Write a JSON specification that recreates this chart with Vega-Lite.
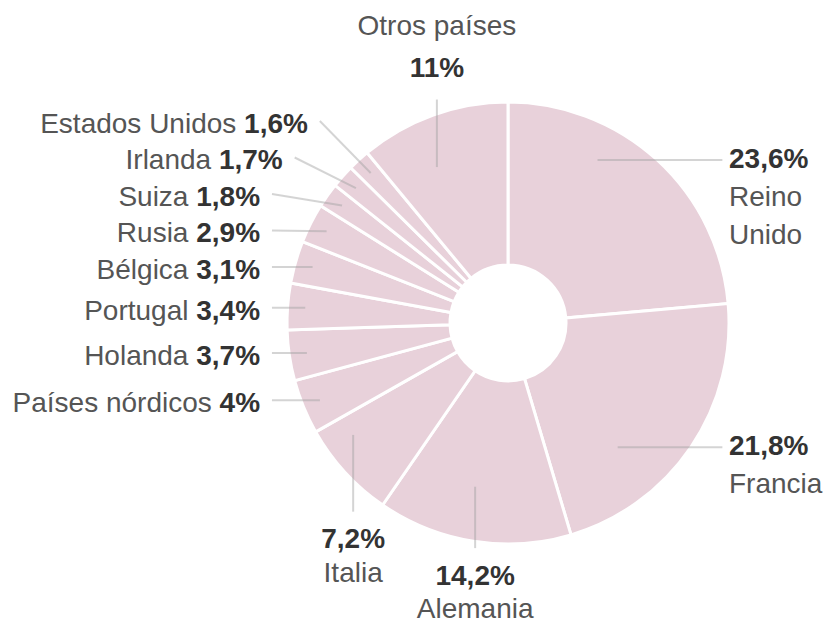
{
  "$schema": "https://vega.github.io/schema/vega-lite/v6.json",
  "width": 442,
  "height": 442,
  "autosize": {"type": "none"},
  "padding": {"left": 287, "top": 102, "right": 100, "bottom": 84},
  "background": "white",
  "config": {"view": {"stroke": null}, "text": {"font": "Liberation Sans", "fontSize": 28}},
  "data": {"values": [
    {"orden": 1, "pais": "Reino Unido", "valor": 23.6, "pct": "23,6%"},
    {"orden": 2, "pais": "Francia", "valor": 21.8, "pct": "21,8%"},
    {"orden": 3, "pais": "Alemania", "valor": 14.2, "pct": "14,2%"},
    {"orden": 4, "pais": "Italia", "valor": 7.2, "pct": "7,2%"},
    {"orden": 5, "pais": "Países nórdicos", "valor": 4, "pct": "4%"},
    {"orden": 6, "pais": "Holanda", "valor": 3.7, "pct": "3,7%"},
    {"orden": 7, "pais": "Portugal", "valor": 3.4, "pct": "3,4%"},
    {"orden": 8, "pais": "Bélgica", "valor": 3.1, "pct": "3,1%"},
    {"orden": 9, "pais": "Rusia", "valor": 2.9, "pct": "2,9%"},
    {"orden": 10, "pais": "Suiza", "valor": 1.8, "pct": "1,8%"},
    {"orden": 11, "pais": "Irlanda", "valor": 1.7, "pct": "1,7%"},
    {"orden": 12, "pais": "Estados Unidos", "valor": 1.6, "pct": "1,6%"},
    {"orden": 13, "pais": "Otros países", "valor": 11, "pct": "11%"}
  ]},
  "transform": [
    {"window": [{"op": "sum", "field": "valor", "as": "cum"}], "sort": [{"field": "orden", "order": "ascending"}], "frame": [null, 0]},
    {"calculate": "2*PI*(datum.cum - datum.valor/2)/100", "as": "ang"},
    {"calculate": "datum.ang*180/PI", "as": "deg"},
    {"calculate": "datum.deg < 150 ? 'derecha' : (datum.deg >= 235 && datum.deg < 330) ? 'izquierda' : 'vertical'", "as": "grupo"},
    {"calculate": "0.92*sin(datum.ang)", "as": "ix"},
    {"calculate": "0.92*cos(datum.ang)", "as": "iy"},
    {"window": [{"op": "row_number", "as": "k"}], "groupby": ["grupo"], "sort": [{"field": "orden", "order": "ascending"}]},
    {"calculate": "datum.iy - 0.165*datum.k", "as": "t"},
    {"window": [{"op": "max", "field": "t", "as": "tmax"}], "groupby": ["grupo"], "sort": [{"field": "orden", "order": "ascending"}], "frame": [null, 0]},
    {"calculate": "cos(datum.ang) < 0 ? -1 : 1", "as": "sg"},
    {"calculate": "0.95*sin(datum.ang)", "as": "vx"},
    {"calculate": "datum.grupo == 'izquierda' ? 0.165*datum.k + datum.tmax : datum.grupo == 'derecha' ? cos(datum.ang) : datum.sg*(sqrt(1 - datum.vx*datum.vx) + 0.2*abs(datum.vx))", "as": "ey"},
    {"calculate": "datum.grupo == 'izquierda' ? -1.122 + 0.69*max(0, datum.ey - 0.6) : datum.grupo == 'derecha' ? 1.0 : datum.vx", "as": "tx"},
    {"calculate": "datum.grupo == 'izquierda' ? datum.ix : datum.grupo == 'derecha' ? 0.6*sin(datum.ang) : datum.vx", "as": "lx1"},
    {"calculate": "datum.grupo == 'izquierda' ? datum.iy : datum.grupo == 'derecha' ? cos(datum.ang) : 0.75*cos(datum.ang)", "as": "ly1"},
    {"calculate": "datum.grupo == 'izquierda' ? datum.tx + 0.054 : datum.grupo == 'derecha' ? 0.97 : datum.vx", "as": "lx2"},
    {"calculate": "datum.grupo == 'vertical' ? datum.ey + datum.sg*(datum.sg < 0 ? 0.13 : 0.136) : datum.ey", "as": "ty"},
    {"calculate": "indexof(datum.pct, ',') >= 0 ? 1 : 0", "as": "coma"},
    {"calculate": "(length(datum.pct) - 1 - datum.coma)*0.556 + datum.coma*0.278 + 0.889", "as": "pem"},
    {"calculate": "datum.grupo == 'izquierda' ? datum.tx - (datum.pem + 0.278)*28/221 : datum.tx", "as": "nx"},
    {"calculate": "datum.grupo == 'izquierda' ? datum.ey : datum.grupo == 'derecha' ? datum.ey - 0.172 : datum.ty + datum.sg*(datum.sg < 0 ? 0.152 : 0.19)", "as": "ny"}
  ],
  "layer": [
    {
      "mark": {"type": "arc", "outerRadius": 221, "innerRadius": 58, "stroke": "white", "strokeWidth": 3, "fill": "#e8d1da"},
      "encoding": {
        "theta": {"field": "valor", "type": "quantitative", "stack": true},
        "order": {"field": "orden", "type": "quantitative"}
      }
    },
    {
      "mark": {"type": "rule", "stroke": "#a0a0a0", "strokeOpacity": 0.45, "strokeWidth": 2},
      "encoding": {
        "x": {"field": "lx1", "type": "quantitative", "scale": {"domain": [-1, 1], "nice": false, "zero": false}, "axis": null},
        "y": {"field": "ly1", "type": "quantitative", "scale": {"domain": [-1, 1], "nice": false, "zero": false}, "axis": null},
        "x2": {"field": "lx2"},
        "y2": {"field": "ey"}
      }
    },
    {
      "transform": [{"filter": "datum.grupo == 'izquierda'"}],
      "mark": {"type": "text", "align": "right", "baseline": "middle", "dy": 4, "fontWeight": "bold", "fill": "#333333"},
      "encoding": {
        "x": {"field": "tx", "type": "quantitative", "scale": {"domain": [-1, 1], "nice": false, "zero": false}, "axis": null},
        "y": {"field": "ty", "type": "quantitative", "scale": {"domain": [-1, 1], "nice": false, "zero": false}, "axis": null},
        "text": {"field": "pct"}
      }
    },
    {
      "transform": [{"filter": "datum.grupo == 'izquierda'"}],
      "mark": {"type": "text", "align": "right", "baseline": "middle", "dy": 4, "fill": "#555555"},
      "encoding": {
        "x": {"field": "nx", "type": "quantitative", "scale": {"domain": [-1, 1], "nice": false, "zero": false}, "axis": null},
        "y": {"field": "ny", "type": "quantitative", "scale": {"domain": [-1, 1], "nice": false, "zero": false}, "axis": null},
        "text": {"field": "pais"}
      }
    },
    {
      "transform": [{"filter": "datum.grupo == 'derecha'"}],
      "mark": {"type": "text", "align": "left", "baseline": "middle", "fontWeight": "bold", "fill": "#333333"},
      "encoding": {
        "x": {"field": "tx", "type": "quantitative", "scale": {"domain": [-1, 1], "nice": false, "zero": false}, "axis": null},
        "y": {"field": "ty", "type": "quantitative", "scale": {"domain": [-1, 1], "nice": false, "zero": false}, "axis": null},
        "text": {"field": "pct"}
      }
    },
    {
      "transform": [{"filter": "datum.grupo == 'derecha'"}],
      "mark": {"type": "text", "align": "left", "baseline": "middle", "lineBreak": " ", "lineHeight": 38, "fill": "#555555"},
      "encoding": {
        "x": {"field": "nx", "type": "quantitative", "scale": {"domain": [-1, 1], "nice": false, "zero": false}, "axis": null},
        "y": {"field": "ny", "type": "quantitative", "scale": {"domain": [-1, 1], "nice": false, "zero": false}, "axis": null},
        "text": {"field": "pais"}
      }
    },
    {
      "transform": [{"filter": "datum.grupo == 'vertical'"}],
      "mark": {"type": "text", "align": "center", "baseline": "middle", "fontWeight": "bold", "fill": "#333333"},
      "encoding": {
        "x": {"field": "tx", "type": "quantitative", "scale": {"domain": [-1, 1], "nice": false, "zero": false}, "axis": null},
        "y": {"field": "ty", "type": "quantitative", "scale": {"domain": [-1, 1], "nice": false, "zero": false}, "axis": null},
        "text": {"field": "pct"}
      }
    },
    {
      "transform": [{"filter": "datum.grupo == 'vertical'"}],
      "mark": {"type": "text", "align": "center", "baseline": "middle", "fill": "#555555"},
      "encoding": {
        "x": {"field": "nx", "type": "quantitative", "scale": {"domain": [-1, 1], "nice": false, "zero": false}, "axis": null},
        "y": {"field": "ny", "type": "quantitative", "scale": {"domain": [-1, 1], "nice": false, "zero": false}, "axis": null},
        "text": {"field": "pais"}
      }
    }
  ]
}
